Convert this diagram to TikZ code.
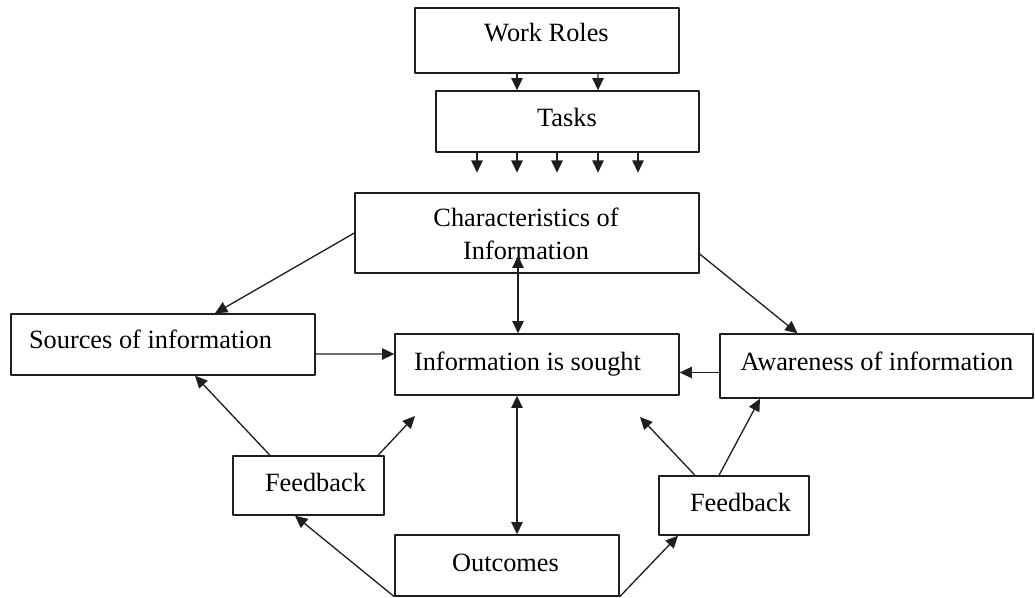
\documentclass[tikz,border=0pt]{standalone}
\usepackage{fontspec}
\setmainfont{Liberation Serif}
\usetikzlibrary{arrows.meta,calc}
\definecolor{inkline}{RGB}{30,30,30}
\tikzset{box/.style={draw=inkline,line width=.8pt,inner sep=0pt},
 txt/.style={font=\fontsize{15}{18.7}\selectfont,inner sep=0pt,align=center},
 flow/.style={draw=inkline,line width=.75pt,-{Triangle[length=7pt,width=6.5pt]}},
 both/.style={flow,{Triangle[length=7pt,width=6.5pt]}-{Triangle[length=7pt,width=6.5pt]}},
 every picture/.style={line join=round}}
\begin{document}
\begin{tikzpicture}[x=0.02cm,y=-0.02cm]
\useasboundingbox (0,0) rectangle (1035,598);
\node[box,minimum width=5.28cm,minimum height=1.30cm] (roles) at (547,40.5) {};
\node[box,minimum width=5.26cm,minimum height=1.22cm] (tasks) at (567.5,121.5) {};
\node[box,minimum width=6.88cm,minimum height=1.60cm] (chars) at (527,233) {};
\node[box,minimum width=6.08cm,minimum height=1.22cm] (sources) at (163,344.5) {};
\node[box,minimum width=5.68cm,minimum height=1.22cm] (sought) at (537,364.5) {};
\node[box,minimum width=6.26cm,minimum height=1.28cm] (aware) at (876.5,366) {};
\node[box,minimum width=3.02cm,minimum height=1.18cm] (fbL) at (308.5,485.5) {};
\node[box,minimum width=3.00cm,minimum height=1.18cm] (fbR) at (734,505.5) {};
\node[box,minimum width=4.48cm,minimum height=1.22cm] (outcomes) at (507,565.5) {};
\node[txt] (rolesT) at (546.5,33) {Work Roles};
\node[txt] (tasksT) at (567,117) {Tasks};
\node[txt] (charsT) at (526,234) {Characteristics of\\Information};
\node[txt] (sourcesT) at (150.5,339.5) {Sources of information};
\node[txt] (soughtT) at (527.5,364) {Information is sought};
\node[txt] (awareT) at (877,361.5) {Awareness of information};
\node[txt] (fbLT) at (315.5,482) {Feedback};
\node[txt] (fbRT) at (740.5,502) {Feedback};
\node[txt] (outcomesT) at (505.5,562.5) {Outcomes};
\coordinate (leftgap) at (415,416);
\coordinate (rightgap) at (640,417);
\draw[flow] ($(roles.south)+(-30,0)$) -- ($(tasks.north)+(-50.5,0)$);
\draw[flow] ($(roles.south)+(51,0)$) -- ($(tasks.north)+(30.5,0)$);
\foreach \dx in {-90.5,-50.5,-10.5,30.5,70.5}
  \draw[flow] ($(tasks.south)+(\dx,0)$) -- ++(0,20);
\draw[both] ($(chars.south)+(-9,-18)$) -- ($(sought.north)+(-19,0)$);
\draw[both] ($(sought.south)+(-20,0)$) -- ($(outcomes.north)+(10,0)$);
\draw[flow] (chars.west) -- ($(sources.north)+(52,0)$);
\draw[flow] ($(chars.east)+(0,21)$) -- ($(aware.north)+(-79,0)$);
\draw[flow] ($(sources.east)+(0,9.5)$) -- ($(sought.west)+(0,-10.5)$);
\draw[flow] ($(aware.west)+(0,6.5)$) -- ($(sought.east)+(0,8)$);
\draw[flow] ($(fbL.north)+(-38.5,0)$) -- ($(sources.south)+(32,0)$);
\draw[flow] ($(fbL.north)+(69.5,0)$) -- (leftgap);
\draw[flow] ($(fbR.north)+(-39,0)$) -- (rightgap);
\draw[flow] ($(fbR.north)+(-15,0)$) -- ($(aware.south)+(-116.5,0)$);
\draw[flow] (outcomes.south west) -- ($(fbL.south)+(-13.5,0)$);
\draw[flow] (outcomes.south east) -- ($(fbR.south)+(-56,0)$);
\end{tikzpicture}
\end{document}
